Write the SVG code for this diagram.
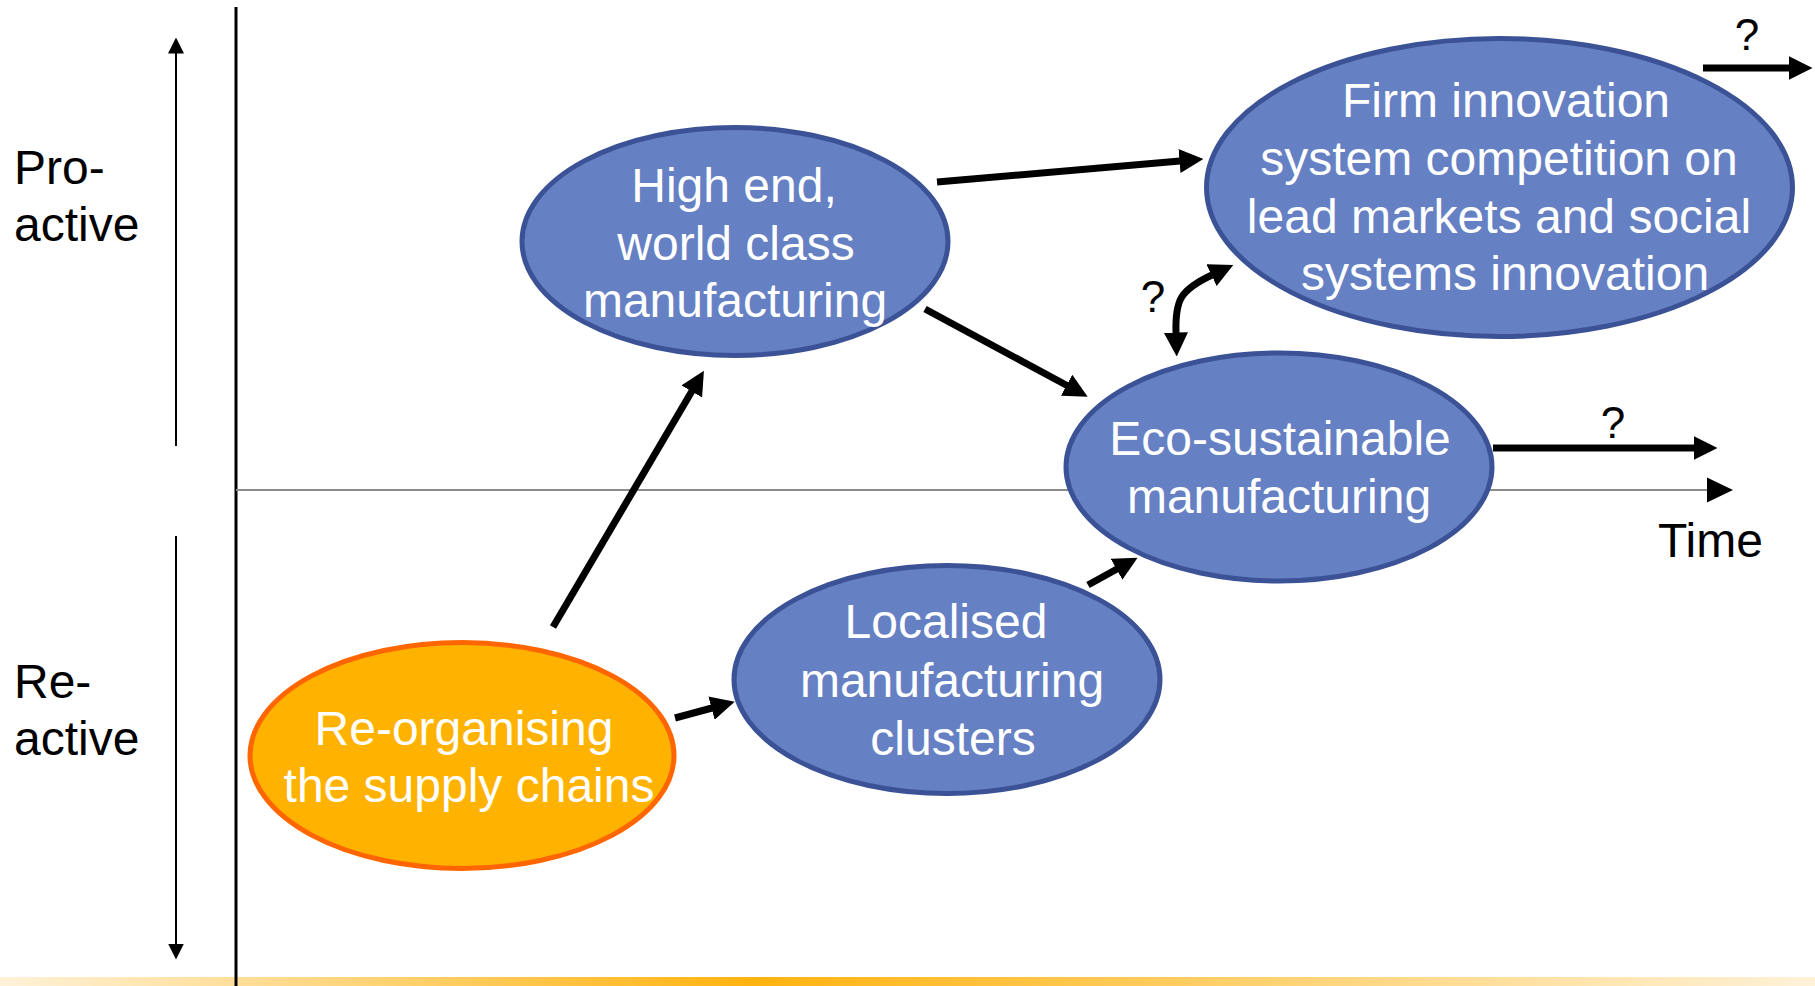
<svg xmlns="http://www.w3.org/2000/svg" width="1815" height="986" viewBox="0 0 1815 986">
<style>
.blue{fill:#6680C4;stroke:#3B5296;stroke-width:5}
.orange{fill:#FFB300;stroke:#FF6600;stroke-width:5}
.lbl{font-family:"Liberation Sans",Arial,sans-serif;font-size:48px;fill:#ffffff;text-anchor:middle}
.axl{font-family:"Liberation Sans",Arial,sans-serif;font-size:48px;fill:#000000}
.q{font-family:"Liberation Sans",Arial,sans-serif;font-size:44px;fill:#000000;text-anchor:middle}
.conn{stroke:#000000;stroke-width:7;fill:none;marker-end:url(#ah)}
.thin{stroke:#000000;stroke-width:2;fill:none;marker-end:url(#ahs)}
</style>
<defs>
<linearGradient id="bar" x1="0" y1="0" x2="1" y2="0">
<stop offset="0" stop-color="#FFF2D9"/>
<stop offset="0.414" stop-color="#FFB30F"/>
<stop offset="1" stop-color="#FFF2D9"/>
</linearGradient>
<marker id="ah" markerUnits="userSpaceOnUse" viewBox="0 0 24 24" markerWidth="24" markerHeight="24" refX="0.5" refY="12" orient="auto-start-reverse">
<path d="M0,0 L24,12 L0,24 z" fill="#000000"/>
</marker>
<marker id="ahs" markerUnits="userSpaceOnUse" viewBox="0 0 16 16" markerWidth="16" markerHeight="16" refX="0.5" refY="8" orient="auto">
<path d="M0,0 L16,8 L0,16 z" fill="#000000"/>
</marker>
</defs>
<rect width="1815" height="986" fill="#ffffff"/>
<rect x="0" y="977" width="1815" height="9" fill="url(#bar)"/>
<g id="axes">
<line x1="236" y1="7" x2="236" y2="986" stroke="#000000" stroke-width="3"/>
<line x1="236" y1="490" x2="1708" y2="490" stroke="#8C8C8C" stroke-width="2"/>
<polygon points="1707,477.5 1733,490 1707,502.5" fill="#000000"/>
<path class="thin" d="M176,446 L176,53"/>
<path class="thin" d="M176,536 L176,944"/>
<text class="axl" x="14" y="184">Pro-</text>
<text class="axl" x="14" y="241">active</text>
<text class="axl" x="14" y="698">Re-</text>
<text class="axl" x="14" y="755">active</text>
<text class="axl" x="1658" y="557">Time</text>
</g>
<g id="node-high-end">
<ellipse class="blue" cx="735" cy="241.5" rx="213" ry="114"/>
<text class="lbl" x="734" y="202">High end,</text>
<text class="lbl" x="736" y="260">world class</text>
<text class="lbl" x="735" y="317">manufacturing</text>
</g>
<g id="node-firm-innovation">
<ellipse class="blue" cx="1499.5" cy="187.5" rx="293" ry="149"/>
<text class="lbl" x="1506" y="117">Firm innovation</text>
<text class="lbl" x="1499" y="175">system competition on</text>
<text class="lbl" x="1499" y="233">lead markets and social</text>
<text class="lbl" x="1505" y="290">systems innovation</text>
</g>
<g id="node-eco">
<ellipse class="blue" cx="1279" cy="467" rx="213" ry="114"/>
<text class="lbl" x="1280" y="455">Eco-sustainable</text>
<text class="lbl" x="1279" y="513">manufacturing</text>
</g>
<g id="node-localised">
<ellipse class="blue" cx="947" cy="679.5" rx="213" ry="114"/>
<text class="lbl" x="946" y="638">Localised</text>
<text class="lbl" x="952" y="697">manufacturing</text>
<text class="lbl" x="953" y="755">clusters</text>
</g>
<g id="node-reorganising">
<ellipse class="orange" cx="462" cy="755.5" rx="212" ry="113"/>
<text class="lbl" x="464" y="745">Re-organising</text>
<text class="lbl" x="469" y="802">the supply chains</text>
</g>
<g id="connectors">
<path class="conn" d="M553,627 L692,391"/>
<path class="conn" d="M675,718 L712,708"/>
<path class="conn" d="M1088,585 L1117,569"/>
<path class="conn" d="M925,309 L1067,385.5"/>
<path class="conn" d="M937,182 L1180,161"/>
<path class="conn" d="M1493,448 L1694,448"/>
<path class="conn" d="M1703,68 L1789,68"/>
<path class="conn" d="M1176,333 C1175,300 1180,290 1212,275" marker-start="url(#ah)"/>
<text class="q" x="1747" y="50">?</text>
<text class="q" x="1613" y="438">?</text>
<text class="q" x="1153" y="312">?</text>
</g>
</svg>
